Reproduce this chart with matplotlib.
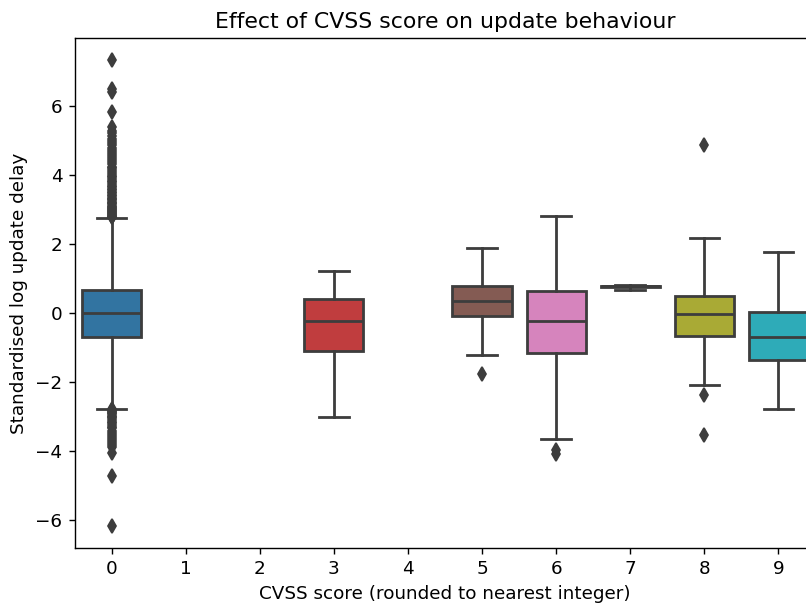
import colorsys
import matplotlib
matplotlib.use("Agg")
import matplotlib.pyplot as plt
from matplotlib.colors import to_rgb

# CVSS score buckets shown on the x axis (1, 2 and 4 have no packages)
scores = [0, 1, 2, 3, 4, 5, 6, 7, 8, 9]
present = [0, 3, 5, 6, 7, 8, 9]

# box summaries per present score
whisker_low = [-2.77, -3.01, -1.22, -3.65, 0.68, -2.09, -2.78]
q1 = [-0.70, -1.10, -0.09, -1.16, 0.74, -0.67, -1.36]
median = [0.00, -0.23, 0.35, -0.23, 0.77, -0.03, -0.70]
q3 = [0.68, 0.41, 0.78, 0.64, 0.79, 0.49, 0.03]
whisker_high = [2.75, 1.22, 1.88, 2.81, 0.82, 2.17, 1.77]

fliers_0 = [
    2.77, 2.79, 2.81, 2.84, 2.86, 2.89, 2.92, 2.95, 2.98, 3.01, 3.04,
    3.08, 3.11, 3.15, 3.18, 3.22, 3.26, 3.30, 3.34, 3.38, 3.42, 3.46,
    3.51, 3.55, 3.59, 3.64, 3.68, 3.73, 3.78, 3.83, 3.88, 3.93, 3.98,
    4.03, 4.08, 4.13, 4.19, 4.24, 4.30, 4.36, 4.42, 4.48, 4.54, 4.60,
    4.66, 4.72, 4.79, 4.85, 4.92, 4.98, 5.05, 5.12, 5.20, 5.28, 5.39,
    5.83, 6.40, 6.47, 7.32,
    -2.78, -2.80, -2.83, -2.86, -2.89, -2.93, -2.97, -3.01, -3.05,
    -3.09, -3.14, -3.19, -3.24, -3.29, -3.34, -3.40, -3.46, -3.52,
    -3.58, -3.64, -3.70, -3.76, -3.82, -3.88, -4.06, -4.72, -6.15,
]
fliers_3 = []
fliers_5 = [-1.77]
fliers_6 = [-3.95, -4.08]
fliers_7 = []
fliers_8 = [4.87, -2.38, -3.54]
fliers_9 = []
fliers = [fliers_0, fliers_3, fliers_5, fliers_6, fliers_7, fliers_8, fliers_9]

palette = plt.get_cmap("tab10").colors


def desaturate(color, prop):
    h, l, s = colorsys.rgb_to_hls(*to_rgb(color))
    return colorsys.hls_to_rgb(h, l, s * prop)


gray = "#3d3d3d"
lw = 1.6

stats = []
for i in range(len(present)):
    stats.append({
        "whislo": whisker_low[i],
        "q1": q1[i],
        "med": median[i],
        "q3": q3[i],
        "whishi": whisker_high[i],
        "fliers": fliers[i],
    })

plt.rcParams["font.size"] = 10.5
plt.rcParams["axes.titlesize"] = 12.6

fig = plt.figure(figsize=(806 / 126, 608 / 126), dpi=126)
ax = fig.add_axes([74.5 / 806, 60 / 608, 741 / 806, 510 / 608])

parts = ax.bxp(
    stats,
    positions=present,
    widths=0.8,
    patch_artist=True,
    boxprops=dict(edgecolor=gray, linewidth=lw),
    medianprops=dict(color=gray, linewidth=lw),
    whiskerprops=dict(color=gray, linewidth=lw),
    capprops=dict(color=gray, linewidth=lw),
    flierprops=dict(marker="d", markerfacecolor=gray,
                    markeredgecolor=gray, markersize=5.3),
)
for box, pos in zip(parts["boxes"], present):
    box.set_facecolor(desaturate(palette[pos], 0.75))

ax.set_xlim(-0.5, 9.5)
ax.set_ylim(-6.80, 7.96)
ax.set_xticks(scores)
ax.set_xticklabels([str(s) for s in scores])
ax.set_yticks([-6, -4, -2, 0, 2, 4, 6])
ax.set_yticklabels(["\u22126", "\u22124", "\u22122", "0", "2", "4", "6"])

ax.set_title("Effect of CVSS score on update behaviour")
ax.set_xlabel("CVSS score (rounded to nearest integer)")
ax.set_ylabel("Standardised log update delay")

fig.savefig("out.png", dpi=126)
